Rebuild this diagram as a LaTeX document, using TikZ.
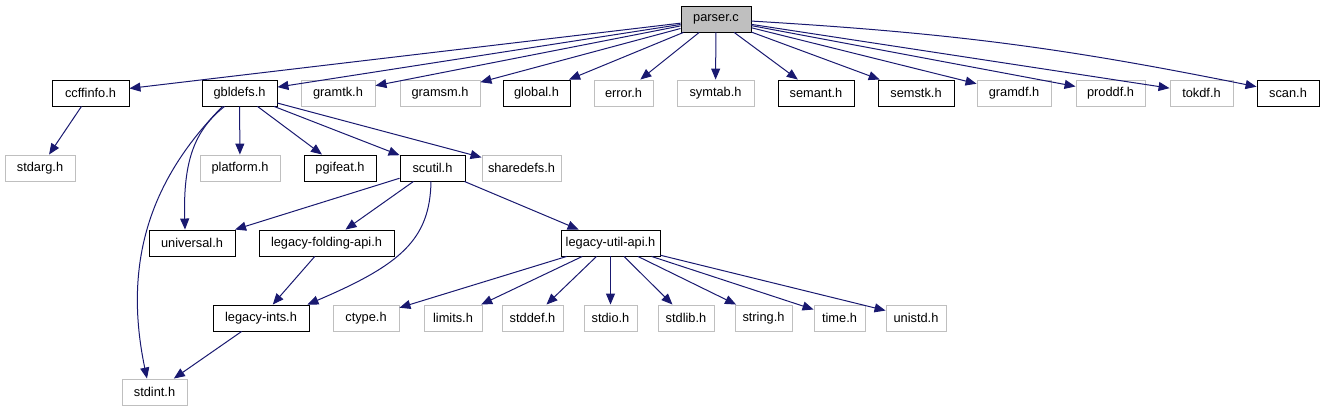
\documentclass[tikz,border=0pt]{standalone}
\usepackage{fontspec}
\setmainfont{Liberation Sans}
\usetikzlibrary{arrows.meta}
\definecolor{edgec}{HTML}{191970}
\definecolor{grayb}{HTML}{BFBFBF}
\begin{document}
\begin{tikzpicture}[x=1pt,y=-1pt,
  box/.style={draw, rectangle, inner sep=0pt, minimum height=26pt, line width=0.9pt,
     font=\fontsize{12.8}{15}\selectfont},
  doc/.style={box, draw=black},
  und/.style={box, draw=grayb},
  root/.style={box, draw=black, fill=grayb},
  edge/.style={draw=edgec, line width=1pt, -{Triangle[length=11pt,width=9pt]}, fill=none},
]
\useasboundingbox (0,0) rectangle (1324,411);
% row 0
\node[root, minimum width=70pt] (parser) at (716,19) {parser.c};
% row 1
\node[doc, minimum width=77pt] (ccffinfo) at (90.5,93) {ccffinfo.h};
\node[doc, minimum width=75pt] (gbldefs) at (239.5,93) {gbldefs.h};
\node[und, minimum width=74pt] (gramtk) at (338,93) {gramtk.h};
\node[und, minimum width=80pt] (gramsm) at (440,93) {gramsm.h};
\node[doc, minimum width=67pt] (global) at (536.5,93) {global.h};
\node[und, minimum width=59pt] (error) at (623.5,93) {error.h};
\node[und, minimum width=77pt] (symtab) at (715.5,93) {symtab.h};
\node[doc, minimum width=76pt] (semant) at (816,93) {semant.h};
\node[doc, minimum width=76pt] (semstk) at (916,93) {semstk.h};
\node[und, minimum width=74pt] (gramdf) at (1014,93) {gramdf.h};
\node[und, minimum width=69pt] (proddf) at (1110.5,93) {proddf.h};
\node[und, minimum width=63pt] (tokdf) at (1201.5,93) {tokdf.h};
\node[doc, minimum width=62pt] (scan) at (1288,93) {scan.h};
% row 2
\node[und, minimum width=70pt] (stdarg) at (40,168) {stdarg.h};
\node[und, minimum width=80pt] (platform) at (240,168) {platform.h};
\node[doc, minimum width=72pt] (pgifeat) at (340,168) {pgifeat.h};
\node[doc, minimum width=65pt] (scutil) at (432.5,168) {scutil.h};
\node[und, minimum width=79pt] (sharedefs) at (521.5,168) {sharedefs.h};
% row 3
\node[doc, minimum width=86pt] (universal) at (192,243) {universal.h};
\node[doc, minimum width=135pt] (lfold) at (326.5,243) {legacy-folding-api.h};
\node[doc, minimum width=99pt] (lutil) at (610.5,243) {legacy-util-api.h};
% row 4
\node[doc, minimum width=96pt] (lints) at (261,318) {legacy-ints.h};
\node[und, minimum width=66pt] (ctype) at (366,318) {ctype.h};
\node[und, minimum width=58pt] (limits) at (453,318) {limits.h};
\node[und, minimum width=61pt] (stddef) at (532.5,318) {stddef.h};
\node[und, minimum width=53pt] (stdio) at (610.5,318) {stdio.h};
\node[und, minimum width=56pt] (stdlib) at (686,318) {stdlib.h};
\node[und, minimum width=57pt] (string) at (763.5,318) {string.h};
\node[und, minimum width=51pt] (time) at (839.5,318) {time.h};
\node[und, minimum width=60pt] (unistd) at (916,318) {unistd.h};
% row 5
\node[und, minimum width=65pt] (stdint) at (154.5,392) {stdint.h};

% edges from parser.c
\foreach \t in {ccffinfo,gbldefs,gramtk,gramsm,global,error,symtab,semant,semstk,gramdf,proddf,tokdf}
  \draw[edge] (parser) -- (\t);
\draw[edge] (parser) to[bend left=4] (scan);
% ccffinfo
\draw[edge] (ccffinfo) -- (stdarg);
% gbldefs
\draw[edge] (gbldefs) -- (platform);
\draw[edge] (gbldefs) -- (pgifeat);
\draw[edge] (gbldefs) -- (scutil);
\draw[edge] (gbldefs) -- (sharedefs);
\draw[edge] ([xshift=-15pt]gbldefs.south) .. controls (195,130) and (183,160) .. (universal.north -| 185,0);
\draw[edge] ([xshift=-17pt]gbldefs.south) .. controls (160,170) and (120,250) .. (stdint.north -| 147,0);
% scutil
\draw[edge] (scutil) -- (universal);
\draw[edge] (scutil) -- (lfold);
\draw[edge] (scutil) -- (lutil);
\draw[edge] (scutil.south -| 431,0) .. controls (430,240) and (400,265) .. ([xshift=-2pt]lints.north east);
% legacy-folding-api
\draw[edge] (lfold) -- (lints);
% legacy-ints
\draw[edge] (lints) -- (stdint);
% legacy-util-api
\foreach \t in {ctype,limits,stddef,stdio,stdlib,string,time,unistd}
  \draw[edge] (lutil) -- (\t);
\end{tikzpicture}
\end{document}
